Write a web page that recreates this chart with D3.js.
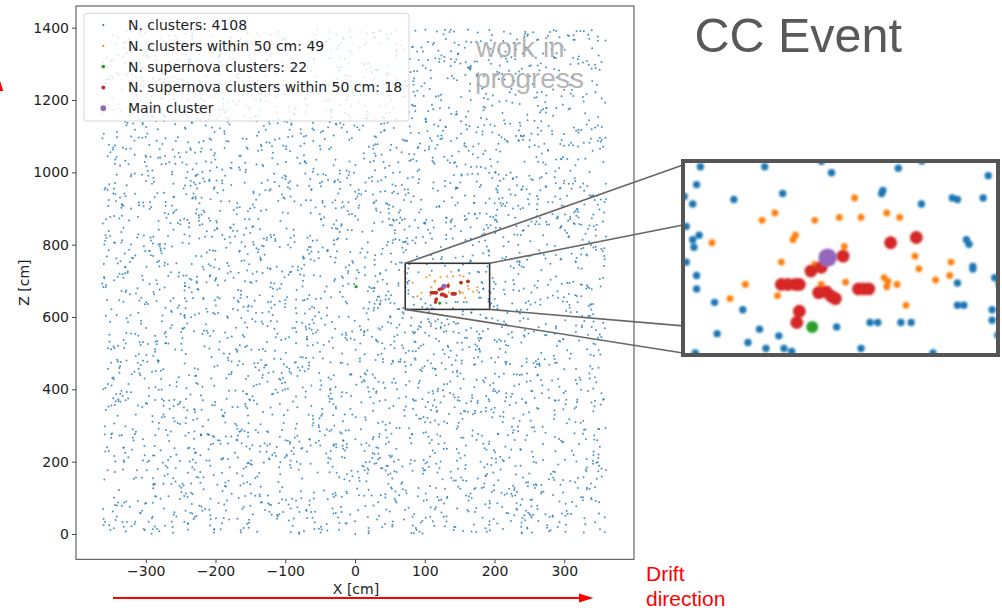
<!DOCTYPE html>
<html>
<head>
<meta charset="utf-8">
<script src="https://cdn.jsdelivr.net/npm/d3@7"></script>
<style>
  html, body { margin: 0; padding: 0; background: #fff; }
  svg { display: block; }
</style>
</head>
<body>
<div id="chart"></div>
<script>
// ---- data, all in cm ----
const xTicks = [-300, -200, -100, 0, 100, 200, 300];
const zTicks = [0, 200, 400, 600, 800, 1000, 1200, 1400];

const legendLabels = [
  "N. clusters: 4108",
  "N. clusters within 50 cm: 49",
  "N. supernova clusters: 22",
  "N. supernova clusters within 50 cm: 18",
  "Main cluster"
];

const nClusters = 4108;

// zoomed region (x range, z range)
const zoomX = [72, 193];
const zoomZ = [621, 748.5];

// plain clusters inside the zoomed region
const boxClusters = [
  [78, 746], [103, 746], [129, 742], [155, 745], [190, 740], [76.5, 734],
  [110, 728], [91, 724], [149, 730], [148.5, 728], [176, 725], [178, 724],
  [188, 725], [164, 721], [75, 721], [72.5, 706], [77.5, 700], [75, 697],
  [75.5, 692], [181.5, 697], [182.5, 694], [72.5, 682], [76.5, 673], [184, 679],
  [184, 677.4], [192.5, 671.5], [76.5, 664], [178, 668], [83.5, 655], [178, 653],
  [180.5, 653], [94.5, 650], [191.5, 650], [191.5, 643], [144, 641.5], [147, 641.5],
  [156, 641.5], [160, 641.5], [131, 638.5], [101, 637], [84.5, 634], [108.5, 632.5],
  [96.5, 628], [103.5, 624], [110.5, 624], [113.5, 622], [140.5, 624], [76, 621],
  [168.5, 621]
];

// clusters within 50 cm of the main cluster
const nearClusters = [
  [138, 725], [107, 715], [102, 710], [122.5, 710], [132, 712], [140.5, 712],
  [150.5, 715], [155.5, 712], [115, 700], [114, 697], [82.5, 695], [134, 692.5],
  [109.5, 682], [122.5, 680.5], [161.5, 686], [175.5, 682], [163, 677.5], [175, 673],
  [169.5, 670], [149.5, 671.5], [151, 669], [150.5, 665.5], [154.5, 667], [134.5, 668.5],
  [125, 667], [95.5, 667], [89.5, 657.5], [108, 659.5], [158, 653]
];

// supernova clusters outside the red set
const snClusters = [[1.5, 684], [121.5, 638.5]];

// supernova clusters within 50 cm
const snNearClusters = [
  [152, 695], [162, 698.5], [133.5, 686], [125, 678.5], [121, 676], [109.5, 667],
  [112, 667], [115, 667], [116.5, 667], [124, 661.5], [127, 662], [129, 659],
  [130.5, 657.5], [139.5, 664], [141.5, 664], [143.5, 664], [116.5, 649], [115.5, 641.5]
];

const mainCluster = [[127.5, 685]];

// ---- layout ----
const width = 1002, height = 610;
const plot = { left: 76, right: 634, top: 6, bottom: 559.3 };
const inset = { x: 683, y: 161, w: 315, h: 194 };

const svg = d3.select("#chart").append("svg")
  .attr("width", width)
  .attr("height", height)
  .style("font-family", "'DejaVu Sans', sans-serif");

const x = d3.scaleLinear().domain([-400, 400]).range([plot.left, plot.right]);
const z = d3.scaleLinear().domain([-70, 1460]).range([plot.bottom, plot.top]);

const inBox = p => p[0] >= zoomX[0] && p[0] <= zoomX[1] && p[1] >= zoomZ[0] && p[1] <= zoomZ[1];

// The ~4000 readout clusters outside the zoom box cannot be read one by one;
// they are a flat noise field, so stand in with a seeded uniform field.
const rng = d3.randomLcg(0.4108);
const ux = d3.randomUniform.source(rng)(-363, 360);
const uz = d3.randomUniform.source(rng)(0, 1395);
const background = [];
while (background.length < nClusters - boxClusters.length) {
  const p = [ux(), uz()];
  if (!inBox(p)) background.push(p);
}

const series = [
  { data: background.concat(boxClusters), color: "#1f77b4", r: 1.0, ri: 3.7, op: 0.8 },
  { data: nearClusters, color: "#ff7f0e", r: 1.0, ri: 3.4, op: 0.9 },
  { data: snClusters.concat(snNearClusters), color: "#2ca02c", r: 1.7, ri: 6, op: 1 },
  { data: snNearClusters, color: "#d62728", r: 1.8, ri: 6.4, op: 1 },
  { data: mainCluster, color: "#9467bd", r: 2.6, ri: 9.2, op: 1 }
];

const defs = svg.append("defs");
defs.append("clipPath").attr("id", "plotClip")
  .append("rect")
  .attr("x", plot.left).attr("y", plot.top)
  .attr("width", plot.right - plot.left).attr("height", plot.bottom - plot.top);
defs.append("clipPath").attr("id", "insetClip")
  .append("rect")
  .attr("x", inset.x).attr("y", inset.y)
  .attr("width", inset.w).attr("height", inset.h);
defs.append("filter").attr("id", "soft")
  .attr("x", "-20%").attr("y", "-20%").attr("width", "140%").attr("height", "140%")
  .append("feGaussianBlur").attr("stdDeviation", 1.0);

// ---- main scatter ----
const pts = svg.append("g").attr("clip-path", "url(#plotClip)");
series.forEach(s => {
  pts.append("g")
    .attr("fill-opacity", s.op)
    .selectAll("circle")
    .data(s.data)
    .join("circle")
    .attr("cx", d => x(d[0]))
    .attr("cy", d => z(d[1]))
    .attr("r", s.r)
    .attr("fill", s.color);
});

// zoom box on the main plot
const bx0 = x(zoomX[0]), bx1 = x(zoomX[1]);
const bz0 = z(zoomZ[1]), bz1 = z(zoomZ[0]);
svg.append("rect")
  .attr("x", bx0).attr("y", bz0)
  .attr("width", bx1 - bx0).attr("height", bz1 - bz0)
  .attr("fill", "none")
  .attr("stroke", "#333")
  .attr("stroke-width", 1.6);

// ---- axes ----
const fmt = d3.format("d");
const xAxis = svg.append("g")
  .attr("transform", `translate(0,${plot.bottom})`)
  .call(d3.axisBottom(x).tickValues(xTicks).tickFormat(fmt).tickSize(4).tickPadding(3).tickSizeOuter(0));
const zAxis = svg.append("g")
  .attr("transform", `translate(${plot.left},0)`)
  .call(d3.axisLeft(z).tickValues(zTicks).tickFormat(fmt).tickSize(4).tickPadding(3).tickSizeOuter(0));
[xAxis, zAxis].forEach(a => {
  a.select(".domain").remove();
  a.selectAll("line").attr("stroke", "#444");
  a.selectAll("text")
    .attr("fill", "#222")
    .style("font-size", "14px")
    .style("font-family", "'DejaVu Sans', sans-serif");
});

svg.append("rect")
  .attr("x", plot.left).attr("y", plot.top)
  .attr("width", plot.right - plot.left).attr("height", plot.bottom - plot.top)
  .attr("fill", "none")
  .attr("stroke", "#444")
  .attr("stroke-width", 1);

svg.append("text")
  .attr("x", (plot.left + plot.right) / 2 + 1)
  .attr("y", 594)
  .attr("text-anchor", "middle")
  .attr("fill", "#222")
  .style("font-size", "14px")
  .text("X [cm]");

svg.append("text")
  .attr("transform", `translate(29,${(plot.top + plot.bottom) / 2}) rotate(-90)`)
  .attr("text-anchor", "middle")
  .attr("fill", "#222")
  .style("font-size", "14px")
  .text("Z [cm]");

// ---- legend ----
const legend = svg.append("g");
legend.append("rect")
  .attr("x", 84).attr("y", 13.3)
  .attr("width", 325).attr("height", 107.7)
  .attr("rx", 3)
  .attr("fill", "#fff").attr("fill-opacity", 0.8)
  .attr("stroke", "#d6d6d6");
const rows = legend.selectAll("g.row")
  .data(series)
  .join("g")
  .attr("class", "row")
  .attr("transform", (d, i) => `translate(0,${25 + i * 20.8})`);
rows.append("circle")
  .attr("cx", 103.3)
  .attr("r", d => d.r * 1.1)
  .attr("fill", d => d.color);
rows.append("text")
  .attr("x", 128)
  .attr("dy", "0.35em")
  .attr("fill", "#222")
  .style("font-size", "14px")
  .text((d, i) => legendLabels[i]);

// ---- watermark ----
const wm = svg.append("g")
  .attr("fill", "#ababab")
  .attr("fill-opacity", 0.9)
  .style("font-family", "'Liberation Sans', Arial, sans-serif")
  .style("font-size", "28px");
wm.append("text").attr("x", 476).attr("y", 57).text("work in");
wm.append("text").attr("x", 475).attr("y", 88).text("progress");

// ---- inset ----
const xi = d3.scaleLinear().domain(zoomX).range([inset.x + 2, inset.x + inset.w - 2]);
const zi = d3.scaleLinear().domain(zoomZ).range([inset.y + inset.h - 2, inset.y + 2]);

// connector lines from the zoom box to the inset frame
const connectors = [
  [[bx0, bz0], 0.02],
  [[bx1, bz0], 0.33],
  [[bx1, bz1], 0.85],
  [[bx0, bz1], 0.99]
];
svg.append("g")
  .selectAll("line")
  .data(connectors)
  .join("line")
  .attr("x1", d => d[0][0]).attr("y1", d => d[0][1])
  .attr("x2", inset.x).attr("y2", d => inset.y + d[1] * inset.h)
  .attr("stroke", "#666")
  .attr("stroke-width", 1.6);

svg.append("rect")
  .attr("x", inset.x).attr("y", inset.y)
  .attr("width", inset.w).attr("height", inset.h)
  .attr("fill", "#fff");

const ipts = svg.append("g")
  .attr("clip-path", "url(#insetClip)")
  .append("g")
  .attr("filter", "url(#soft)");
series.forEach(s => {
  ipts.append("g")
    .selectAll("circle")
    .data(s.data.filter(d => d[0] > zoomX[0] - 5 && d[0] < zoomX[1] + 5 && d[1] > zoomZ[0] - 5 && d[1] < zoomZ[1] + 5))
    .join("circle")
    .attr("cx", d => xi(d[0]))
    .attr("cy", d => zi(d[1]))
    .attr("r", s.ri)
    .attr("fill", s.color);
});

svg.append("rect")
  .attr("x", inset.x).attr("y", inset.y)
  .attr("width", inset.w).attr("height", inset.h)
  .attr("fill", "none")
  .attr("stroke", "#555")
  .attr("stroke-width", 4);

// ---- slide annotations ----
svg.append("text")
  .attr("x", 694.5).attr("y", 52)
  .attr("fill", "#595959")
  .style("font-family", "'Liberation Sans', Arial, sans-serif")
  .style("font-size", "48.5px")
  .text("CC Event");

const drift = svg.append("g")
  .attr("fill", "red")
  .style("font-family", "'Liberation Sans', Arial, sans-serif")
  .style("font-size", "21px");
drift.append("text").attr("x", 646).attr("y", 581).text("Drift");
drift.append("text").attr("x", 646).attr("y", 606).text("direction");

svg.append("line")
  .attr("x1", 113).attr("x2", 582)
  .attr("y1", 598).attr("y2", 598)
  .attr("stroke", "red")
  .attr("stroke-width", 2.2);
svg.append("path")
  .attr("d", "M579,593.5L593.5,598L579,602.5Z")
  .attr("fill", "red");

// partial arrow head at the left edge of the slide
svg.append("path")
  .attr("d", "M-0.9,78L3.3,91L-5.1,91Z")
  .attr("fill", "red");
</script>
</body>
</html>
